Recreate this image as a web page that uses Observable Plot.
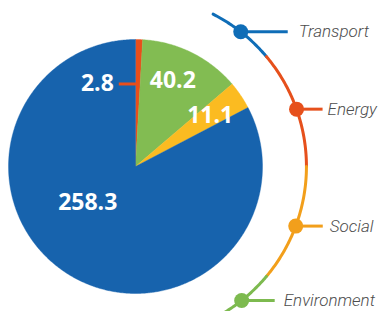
<!DOCTYPE html>
<html><head><meta charset="utf-8">
<script src="https://cdn.jsdelivr.net/npm/d3@7"></script>
<script src="https://cdn.jsdelivr.net/npm/@observablehq/plot@0.6"></script>
<style>body{margin:0;background:#fff}#chart svg{display:block}</style>
</head><body><div id="chart"></div>
<script>
// ---- data ----
const categories = ["Energy", "Environment", "Social", "Transport"]; // pie order, clockwise from 12 o'clock
const values = [2.8, 40.2, 11.1, 258.3];
const valueLabels = ["2.8", "40.2", "11.1", "258.3"];
const pieColors = ["#e94e1b", "#82bc52", "#fbbb21", "#1763ad"];
const legendNames = ["Transport", "Energy", "Social", "Environment"];
const legendColors = ["#0f6db7", "#e6501c", "#f29f1b", "#7dba4f"];

// ---- layout (polar, in pie-radius units) ----
const labelRadius = [0.65, 0.74, 0.71, 0.47];
const labelShift = [0, -3, 0, 22];          // degrees
const arcR = 1.346;                          // legend arc radius
const arcBounds = [27, 50, 90, 130, 162];    // compass degrees of segment ends
const dotAngles = [38, 70.4, 110.4, 141.6];
const stubLen = [0.37, 0.205, 0.213, 0.26];
const labelGap = [11, 5, 7, 9];              // px between stub end and legend text

const rad = d => d * Math.PI / 180;
const px = (r, a) => r * Math.sin(rad(a));
const py = (r, a) => r * Math.cos(rad(a));

const total = d3.sum(values);
let acc = 0;
const slices = values.map((v, i) => {
  const a0 = acc / total * 360; acc += v;
  const a1 = acc / total * 360;
  return {cat: categories[i], a0, a1, mid: (a0 + a1) / 2, i};
});

const wedgeMarks = slices.map(s => {
  const pts = [{x: 0, y: 0}];
  const n = Math.max(2, Math.ceil((s.a1 - s.a0) / 0.5));
  for (let k = 0; k <= n; k++) {
    const a = s.a0 + (s.a1 - s.a0) * k / n;
    pts.push({x: px(1, a), y: py(1, a)});
  }
  pts.push({x: 0, y: 0});
  return Plot.line(pts, {x: "x", y: "y", fill: pieColors[s.i], stroke: pieColors[s.i], strokeWidth: 0.4});
});

const labelPts = slices.map(s => {
  const a = s.mid + labelShift[s.i];
  return {x: px(labelRadius[s.i], a), y: py(labelRadius[s.i], a), text: valueLabels[s.i], i: s.i};
});
// Energy: leader line, label to the left
const e = labelPts[0];
const leader = [{x1: e.x, y1: e.y, x2: e.x - 0.15, y2: e.y}];
const otherLabels = labelPts.slice(1);

const arcMarks = legendNames.map((n, i) => {
  const pts = [];
  const a0 = arcBounds[i], a1 = arcBounds[i + 1];
  const m = Math.ceil((a1 - a0) / 0.5);
  for (let k = 0; k <= m; k++) {
    const a = a0 + (a1 - a0) * k / m;
    pts.push({x: px(arcR, a), y: py(arcR, a)});
  }
  return Plot.line(pts, {x: "x", y: "y", stroke: legendColors[i], strokeWidth: 3});
});
const dots = legendNames.map((n, i) => ({name: n, x: px(arcR, dotAngles[i]), y: py(arcR, dotAngles[i]), i, x2: px(arcR, dotAngles[i]) + stubLen[i]}));

const chart = Plot.plot({
  width: 379, height: 311, margin: 0,
  x: {domain: [-135 / 127, (379 - 135) / 127], axis: null},
  y: {domain: [-(311 - 166) / 127, 166 / 127], axis: null},
  marks: [
    ...wedgeMarks,
    Plot.link(leader, {x1: "x1", y1: "y1", x2: "x2", y2: "y2", stroke: pieColors[0], strokeWidth: 3}),
    Plot.text([e], {x: "x", y: "y", text: "text", dx: -24, textAnchor: "end", fill: "white", fontSize: 23, fontWeight: "bold", fontFamily: "Open Sans"}),
    Plot.text(otherLabels, {x: "x", y: "y", text: "text", fill: "white", fontSize: 23, fontWeight: "bold", fontFamily: "Open Sans"}),
    ...arcMarks,
    Plot.link(dots, {x1: "x", y1: "y", x2: "x2", y2: "y", stroke: d => legendColors[d.i], strokeWidth: 3}),
    Plot.dot(dots, {x: "x", y: "y", r: 7.5, fill: d => legendColors[d.i], stroke: "none"}),
    ...dots.map(d => Plot.text([d], {x: "x2", y: "y", text: "name", dx: labelGap[d.i], textAnchor: "start", fill: "#4d4d4d", fontSize: 17, fontStyle: "italic", fontWeight: 300, fontFamily: "Roboto"}))
  ]
});
document.getElementById("chart").appendChild(chart);
</script>
</body></html>
